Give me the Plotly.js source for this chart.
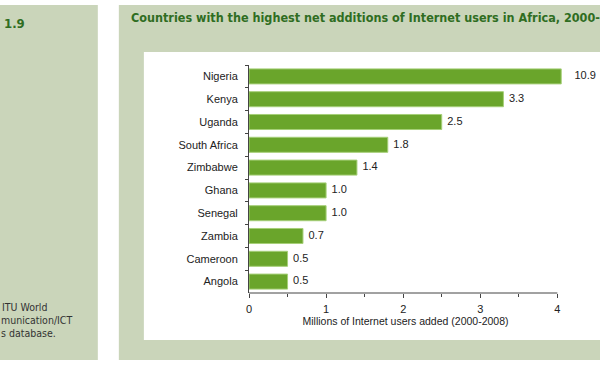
<!DOCTYPE html>
<html><head><meta charset="utf-8">
<script src="https://cdn.plot.ly/plotly-3.0.1.min.js"></script>
<style>html,body{margin:0;padding:0;background:#fff}#chart{width:600px;height:366px}</style>
</head><body><div id="chart"></div>
<script>
const countries = ["Nigeria","Kenya","Uganda","South Africa","Zimbabwe","Ghana","Senegal","Zambia","Cameroon","Angola"];
const usersAdded = [10.9, 3.3, 2.5, 1.8, 1.4, 1.0, 1.0, 0.7, 0.5, 0.5];
const valueLabels = ["10.9","3.3","2.5","1.8","1.4","1.0","1.0","0.7","0.5","0.5"];
const xTicks = [0,1,2,3,4];

const axisMax = 4;
const breakAt = 4.05; // bars beyond the axis are drawn broken just past its end
const shown = usersAdded.map(v => Math.min(v, breakAt));

// plot-area pixel geometry
const W = 600, H = 366, L = 249, T = 65, B = 293;
const unitPx = 77;                 // pixels per million users
const rangeMax = 4.06;             // keeps the broken bar's label inside the drawn range
const R = L + unitPx * rangeMax;
const px = x => (x - L) / (R - L);
const py = y => (B - y) / (B - T);

const panelGreen = "#cad5ba";
const titleGreen = "#2f6d22";
const axisFont = "'Liberation Sans', Arial, sans-serif";
const fs = 10.5;

const bars = {
  type: "bar", orientation: "h",
  y: countries, x: shown,
  marker: {color: "#6aa52b", line: {color: "#a6cf78", width: 1}},
  hoverinfo: "skip"
};
const labels = {
  type: "scatter", mode: "text",
  y: countries, x: shown,
  text: valueLabels.map((t, i) => (usersAdded[i] > axisMax ? "\u2003\u2009" : "\u2002") + t),
  textposition: "middle right", cliponaxis: false,
  textfont: {family: axisFont, size: fs + 0.5, color: "#222"},
  hoverinfo: "skip"
};

const shapes = [
  {type:"rect", xref:"paper", yref:"paper", x0:px(0), x1:px(98), y0:py(360), y1:py(5), fillcolor:panelGreen, line:{width:0}, layer:"below"},
  {type:"rect", xref:"paper", yref:"paper", x0:px(119), x1:px(605), y0:py(360), y1:py(5), fillcolor:panelGreen, line:{width:0}, layer:"below"},
  {type:"rect", xref:"paper", yref:"paper", x0:px(144), x1:px(605), y0:py(340), y1:py(52), fillcolor:"#ffffff", line:{width:0}, layer:"below"},
  // x-axis line, ending at the last tick
  {type:"line", xref:"x", yref:"paper", x0:0, x1:axisMax, y0:0, y1:0, line:{color:"#444", width:1}, layer:"above"}
];

const srcFont = {family: "'DejaVu Sans Condensed', 'DejaVu Sans', sans-serif", size: 10.5, color: "#333"};
const annotations = [
  {xref:"paper", yref:"paper", x:px(2), y:py(23), xanchor:"left", yanchor:"middle", showarrow:false,
   text:"<b>1.9</b>", font:{family:"'DejaVu Sans Condensed', 'DejaVu Sans', sans-serif", size:13, color:titleGreen}},
  {xref:"paper", yref:"paper", x:px(129), y:py(17), xanchor:"left", yanchor:"middle", showarrow:false,
   text:"<b>Countries with the highest net additions of Internet users in Africa, 2000-2008</b>",
   font:{family:"'DejaVu Sans Condensed', 'DejaVu Sans', sans-serif", size:12.5, color:titleGreen}},
  {xref:"paper", yref:"paper", x:px(0), y:py(307), xanchor:"left", yanchor:"middle", showarrow:false, text:"ITU World", font:srcFont},
  {xref:"paper", yref:"paper", x:px(-1), y:py(320), xanchor:"left", yanchor:"middle", showarrow:false, text:"munication/ICT", font:srcFont},
  {xref:"paper", yref:"paper", x:px(-1), y:py(333), xanchor:"left", yanchor:"middle", showarrow:false, text:"s database.", font:srcFont}
];

const layout = {
  width: W, height: H,
  margin: {l: L, r: W - R, t: T, b: H - B, pad: 0},
  paper_bgcolor: "#ffffff", plot_bgcolor: "rgba(0,0,0,0)",
  showlegend: false, bargap: 0.34,
  font: {family: axisFont, size: fs, color: "#222"},
  xaxis: {
    range: [0, rangeMax], tickvals: xTicks, ticktext: xTicks.map(String),
    showgrid: false, zeroline: false, showline: false,
    ticks: "outside", ticklen: 4, tickcolor: "#444",
    minor: {tickvals: [0.5, 1.5, 2.5, 3.5], ticks: "outside", ticklen: 3, tickcolor: "#444", showgrid: false},
    tickfont: {size: fs + 0.5, color: "#222"}, ticklabelstandoff: 2,
    title: {text: "Millions of Internet users added (2000-2008)", font: {size: fs, color: "#222"}, standoff: 0},
    fixedrange: true
  },
  yaxis: {
    autorange: "reversed", type: "category",
    showgrid: false, zeroline: false, showline: true, linecolor: "#444", linewidth: 1,
    ticks: "outside", ticklen: 3, tickcolor: "#444", tickson: "boundaries",
    tickfont: {size: fs + 0.5, color: "#222"}, ticklabelstandoff: 8,
    fixedrange: true
  },
  shapes: shapes, annotations: annotations
};

Plotly.newPlot("chart", [bars, labels], layout, {displayModeBar: false, staticPlot: true});
</script>
</body></html>
